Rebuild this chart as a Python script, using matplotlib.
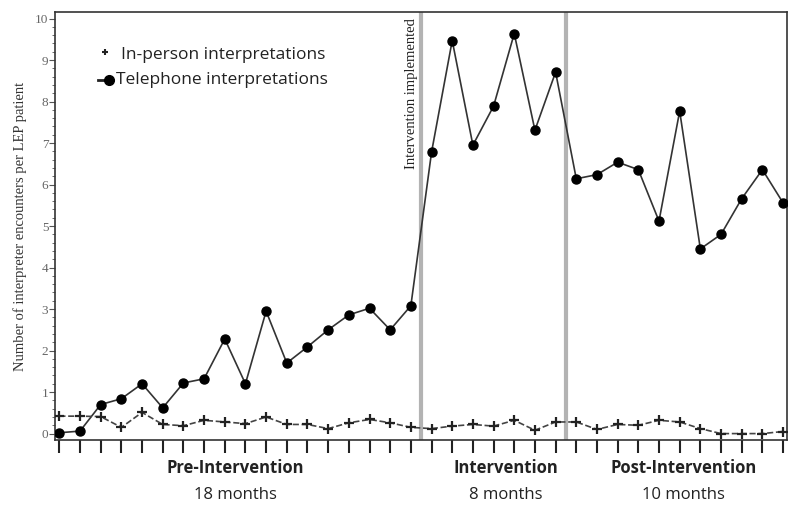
import numpy as np
import matplotlib
matplotlib.use('Agg')
import matplotlib.pyplot as plt
from matplotlib.ticker import MultipleLocator

# monthly values per LEP patient (36 months)
telephone = [0.02, 0.06, 0.70, 0.84, 1.20, 0.62, 1.22, 1.32, 2.28, 1.20,
             2.95, 1.70, 2.09, 2.50, 2.86, 3.02, 2.50, 3.08,
             6.78, 9.47, 6.95, 7.89, 9.64, 7.31, 8.71,
             6.14, 6.24, 6.54, 6.36, 5.12, 7.77, 4.45, 4.80, 5.66, 6.36, 5.56]
in_person = [0.42, 0.42, 0.41, 0.15, 0.51, 0.22, 0.19, 0.32, 0.28, 0.24,
             0.40, 0.22, 0.22, 0.12, 0.26, 0.34, 0.26, 0.15,
             0.12, 0.18, 0.22, 0.18, 0.32, 0.08, 0.28,
             0.28, 0.10, 0.22, 0.20, 0.32, 0.28, 0.12, 0.00, 0.00, 0.00, 0.05]
months = np.arange(len(telephone))

# phase boundaries and labels
phase_lines = [17.5, 24.5]
phase_names = ['Pre-Intervention', 'Intervention', 'Post-Intervention']
phase_lengths = ['18 months', '8 months', '10 months']
phase_centers = [8.5, 21.6, 30.2]

serif = ['Liberation Serif', 'DejaVu Serif']
sans = ['Open Sans', 'DejaVu Sans']

fig = plt.figure(figsize=(8, 5.15), dpi=100)
ax = fig.add_axes([0.069, 0.146, 0.915, 0.83])

# phase lines
for xl in phase_lines:
    ax.axvline(xl, color='#b3b3b3', lw=3, zorder=1)

ax.plot(months, telephone, '-', color='#333333', lw=1.2, marker='o',
        markersize=6.5, markerfacecolor='black', markeredgecolor='black', zorder=3)
ax.plot(months, in_person, '--', color='#444444', lw=1.2, marker='+',
        markersize=7, markeredgewidth=1.6, markeredgecolor='#222222', zorder=3)

ax.set_xlim(-0.2, 35.2)
ax.set_ylim(-0.15, 10.15)
ax.set_xticks(months)
ax.set_xticklabels([])
ax.tick_params(axis='x', direction='out', length=9, width=1.5, color='#222222')
ax.yaxis.set_major_locator(MultipleLocator(1))
ax.yaxis.set_minor_locator(MultipleLocator(0.2))
ax.tick_params(axis='y', which='major', direction='out', length=4, color='#555555',
               labelsize=9.5, labelcolor='#666666', pad=1)
ax.tick_params(axis='y', which='minor', direction='out', length=2, color='#555555')
for lab in ax.get_yticklabels():
    lab.set_family(serif)
for sp in ax.spines.values():
    sp.set_color('#333333')
    sp.set_linewidth(1.2)

ax.set_ylabel('Number of interpreter encounters per LEP patient', family=serif,
              fontsize=10.5, color='#333333', labelpad=6)

ax.text(17.05, 10.0, 'Intervention implemented', rotation=90, ha='center', va='top',
        family=serif, fontsize=10.5, color='#222222')

# legend drawn as text entries
ax.plot([2.23], [9.2], marker='+', color='#222222', markersize=5, markeredgewidth=1.5)
ax.text(3.0, 9.13, 'In-person interpretations', family=sans, fontsize=12.5,
        va='center', color='#222222')
ax.plot([1.85, 2.12], [8.53, 8.53], '-', color='#222222', lw=2)
ax.plot([2.4], [8.53], 'o', color='black', markersize=7)
ax.text(2.75, 8.53, 'Telephone interpretations', family=sans, fontsize=12.5,
        va='center', color='#222222')

for c, name, length in zip(phase_centers, phase_names, phase_lengths):
    xf = ax.transData.transform((c, 0))[0] / fig.bbox.width
    fig.text(xf, 0.091, name, ha='center', va='center', family=sans, fontsize=12,
             fontweight='bold', color='#222222')
    fig.text(xf, 0.039, length, ha='center', va='center', family=sans, fontsize=12,
             color='#222222')

fig.savefig('out.png', dpi=100)
